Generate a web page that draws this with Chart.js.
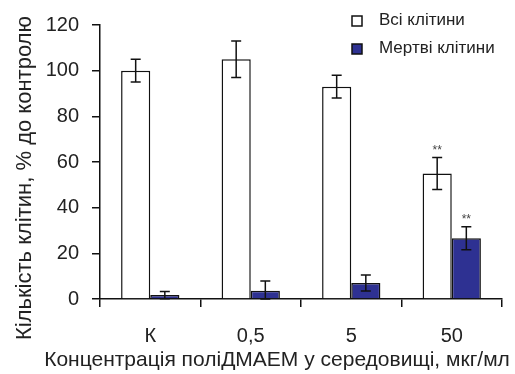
<!DOCTYPE html>
<html><head><meta charset="utf-8">
<script src="https://cdn.jsdelivr.net/npm/chart.js@4/dist/chart.umd.min.js"></script>
<style>html,body{margin:0;padding:0;background:#fff}#w{width:515px;height:374px}</style>
</head><body><div id="w"><canvas id="c"></canvas></div>
<script>
const categories = ['К', '0,5', '5', '50'];
const allCells = [100, 105, 93, 55];
const allErr = [5, 8, 5, 7];
const deadCells = [1.7, 3.6, 7, 26.6];
const deadErr = [1.6, 4.3, 3.5, 5];
const allMarks = ['', '', '', '**'];
const deadMarks = ['', '', '', '**'];
const seriesNames = ['Всі клітини', 'Мертві клітини'];
const yTicks = [0, 20, 40, 60, 80, 100, 120];
const xTitle = 'Концентрація поліДМАЕМ у середовищі, мкг/мл';
const yTitle = 'Кількість клітин, % до контролю';

const FONT = '"Liberation Sans", Arial, sans-serif';
const BLUE = '#2E3192';
const TXT = '#222';
const errs = [allErr, deadErr];
const marks = [allMarks, deadMarks];

const errPlugin = {
  id: 'err',
  afterDatasetsDraw(chart) {
    const ctx = chart.ctx, y = chart.scales.y;
    ctx.save();
    chart.data.datasets.forEach((ds, i) => {
      const meta = chart.getDatasetMeta(i);
      meta.data.forEach((bar, j) => {
        const v = ds.data[j], e = errs[i][j];
        const yt = y.getPixelForValue(v + e), yb = y.getPixelForValue(Math.max(v - e, 0));
        ctx.strokeStyle = '#111'; ctx.lineWidth = 1.5;
        ctx.beginPath();
        ctx.moveTo(bar.x, yt); ctx.lineTo(bar.x, yb);
        ctx.moveTo(bar.x - 5, yt); ctx.lineTo(bar.x + 5, yt);
        ctx.moveTo(bar.x - 5, yb); ctx.lineTo(bar.x + 5, yb);
        ctx.stroke();
        if (marks[i][j]) {
          ctx.fillStyle = '#444'; ctx.font = '12px ' + FONT;
          ctx.textAlign = 'center'; ctx.textBaseline = 'bottom';
          ctx.fillText(marks[i][j], bar.x, yt - 1);
        }
      });
    });
    ctx.restore();
  },
  afterDraw(chart) {
    const ctx = chart.ctx;
    ctx.save();
    // legend
    const lx = 352, ly = [21, 49];
    chart.data.datasets.forEach((ds, i) => {
      ctx.fillStyle = ds.backgroundColor;
      ctx.fillRect(lx, ly[i] - 5, 10, 10);
      ctx.strokeStyle = '#111'; ctx.lineWidth = 1.5;
      ctx.strokeRect(lx, ly[i] - 5, 10, 10);
      ctx.fillStyle = TXT;
      ctx.font = '17px ' + FONT; ctx.textBaseline = 'middle'; ctx.textAlign = 'left';
      ctx.fillText(seriesNames[i], 379, ly[i] - 1);
    });
    // axis titles
    ctx.fillStyle = TXT;
    ctx.textAlign = 'center'; ctx.textBaseline = 'alphabetic';
    ctx.font = '21px ' + FONT;
    ctx.fillText(xTitle, 277, 366);
    ctx.font = '22px ' + FONT;
    ctx.translate(31, 178);
    ctx.rotate(-Math.PI / 2);
    ctx.fillText(yTitle, 0, 0);
    ctx.restore();
  }
};

new Chart(document.getElementById('c'), {
  type: 'bar',
  data: {
    labels: categories,
    datasets: [
      { label: seriesNames[0], data: allCells, backgroundColor: '#ffffff', borderColor: '#111', borderWidth: 1.5 },
      { label: seriesNames[1], data: deadCells, backgroundColor: BLUE, borderColor: '#111', borderWidth: 1.5 }
    ]
  },
  options: {
    responsive: true, maintainAspectRatio: false, animation: false,
    layout: { padding: { top: 21, right: 13, left: 0, bottom: 0 } },
    datasets: { bar: { barPercentage: 1, categoryPercentage: 0.58 } },
    plugins: { legend: { display: false }, tooltip: { enabled: false } },
    scales: {
      x: {
        afterFit: s => { s.height = 75; },
        grid: { display: true, offset: true, drawOnChartArea: false, tickLength: 8, color: '#111', lineWidth: 1.5 },
        border: { display: true, color: '#111', width: 1.5 },
        ticks: { color: TXT, font: { family: FONT, size: 20 }, padding: 17 },
        title: { display: false }
      },
      y: {
        min: 0, max: 120,
        afterFit: s => { s.width = 100; },
        afterBuildTicks: s => { s.ticks = yTicks.map(v => ({ value: v })); },
        grid: { display: true, drawOnChartArea: false, tickLength: 8, color: '#111', lineWidth: 1.5 },
        border: { display: true, color: '#111', width: 1.5 },
        ticks: { color: TXT, font: { family: FONT, size: 20 }, padding: 13 },
        title: { display: false }
      }
    }
  },
  plugins: [errPlugin]
});
</script></body></html>
